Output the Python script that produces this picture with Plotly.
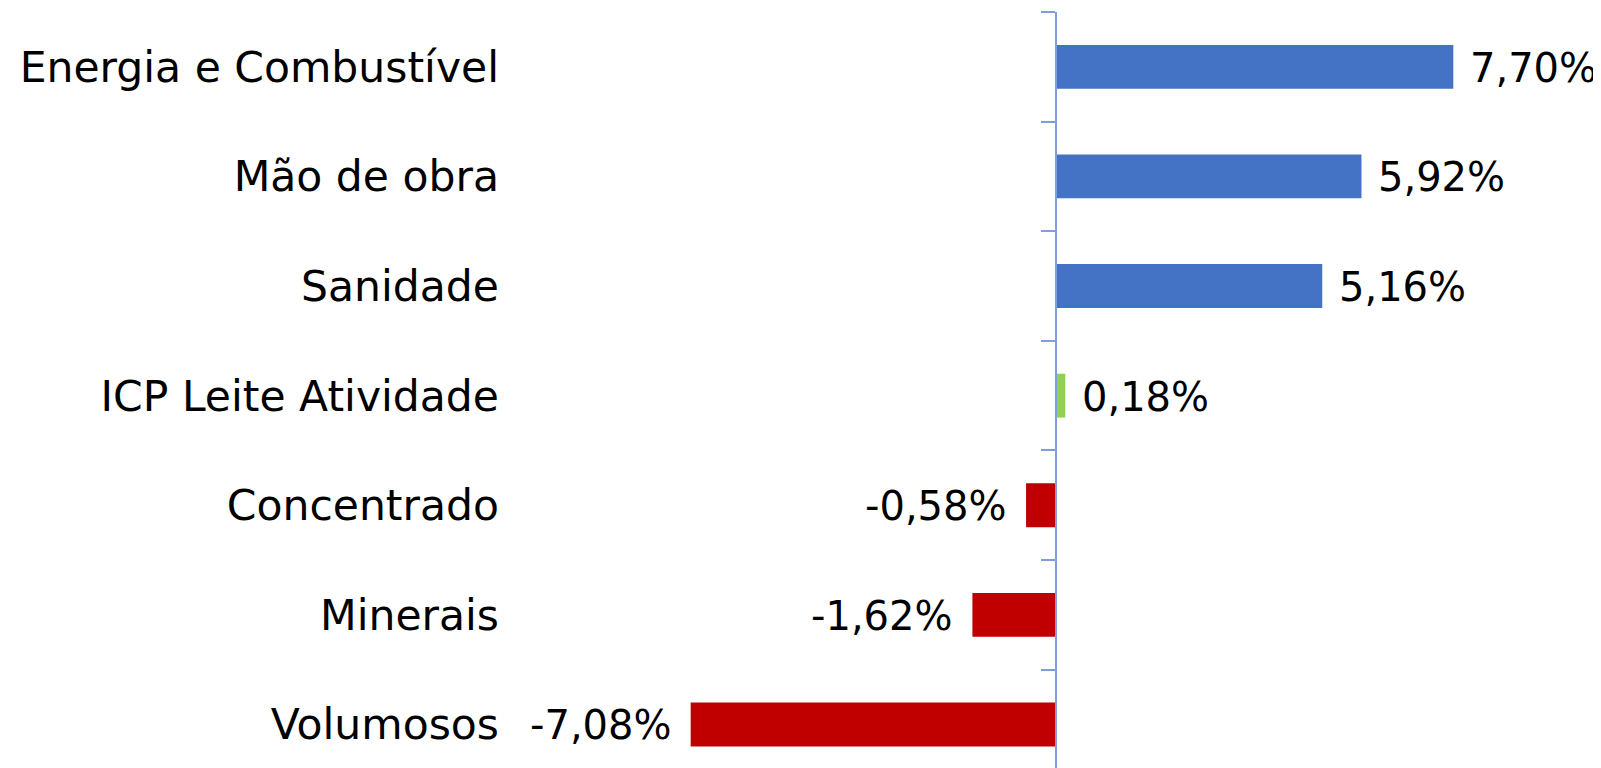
import plotly.graph_objects as go

categories = ["Energia e Combustível", "Mão de obra", "Sanidade", "ICP Leite Atividade",
              "Concentrado", "Minerais", "Volumosos"]
values = [7.70, 5.92, 5.16, 0.18, -0.58, -1.62, -7.08]
colors = ["#4472C4", "#4472C4", "#4472C4", "#92D050", "#C00000", "#C00000", "#C00000"]
labels = [f"{v:.2f}%".replace(".", ",") for v in values]

W, H = 1601, 768
OFF = 8  # page body margin
plot_left, plot_right = 502 - OFF, 1598 - OFF
zero_px = 1056 - OFF
px_per_unit = 51.6
xmin = -(zero_px - plot_left) / px_per_unit
xmax = (plot_right - zero_px) / px_per_unit
zero_pos = (zero_px - plot_left) / (plot_right - plot_left)

FONT = "DejaVu Sans"
FS = 40
FS_CAT = 42.5

fig = go.Figure()
fig.add_trace(go.Bar(
    y=categories, x=values, orientation="h",
    marker=dict(color=colors, line=dict(width=0)),
    width=0.4, showlegend=False, hoverinfo="skip",
))
fig.add_trace(go.Bar(
    y=categories, x=[0] * len(categories), orientation="h",
    yaxis="y2", showlegend=False, hoverinfo="skip", marker=dict(color="rgba(0,0,0,0)"),
))

for c, v, t in zip(categories, values, labels):
    fig.add_annotation(
        x=v, y=c, text=t, showarrow=False,
        xanchor="left" if v >= 0 else "right",
        xshift=15 if v >= 0 else -17, yshift=-1,
        font=dict(family=FONT, size=FS, color="#000000"),
    )

n = len(categories)
yrange = [n - 0.5 - 0.03, -0.5]

fig.update_layout(
    width=W, height=H,
    margin=dict(l=plot_left, r=W - plot_right, t=12 - OFF, b=0),
    paper_bgcolor="white", plot_bgcolor="white",
    xaxis=dict(range=[xmin, xmax], visible=False, showgrid=False, zeroline=False),
    yaxis=dict(categoryorder="array", categoryarray=categories, range=yrange,
               showline=False, showgrid=False, ticks="", zeroline=False,
               tickfont=dict(family=FONT, size=FS_CAT, color="#000000"),
               ticklabelstandoff=2),
    yaxis2=dict(categoryorder="array", categoryarray=categories, range=yrange,
                overlaying="y", anchor="free", position=zero_pos, side="left",
                showline=True, linecolor="#7F9FDB", linewidth=2,
                ticks="outside", ticklen=14, tickwidth=2, tickcolor="#7F9FDB",
                tickson="boundaries", showticklabels=False, showgrid=False, zeroline=False),
    bargap=0.6,
)

fig.write_html("out.html")
